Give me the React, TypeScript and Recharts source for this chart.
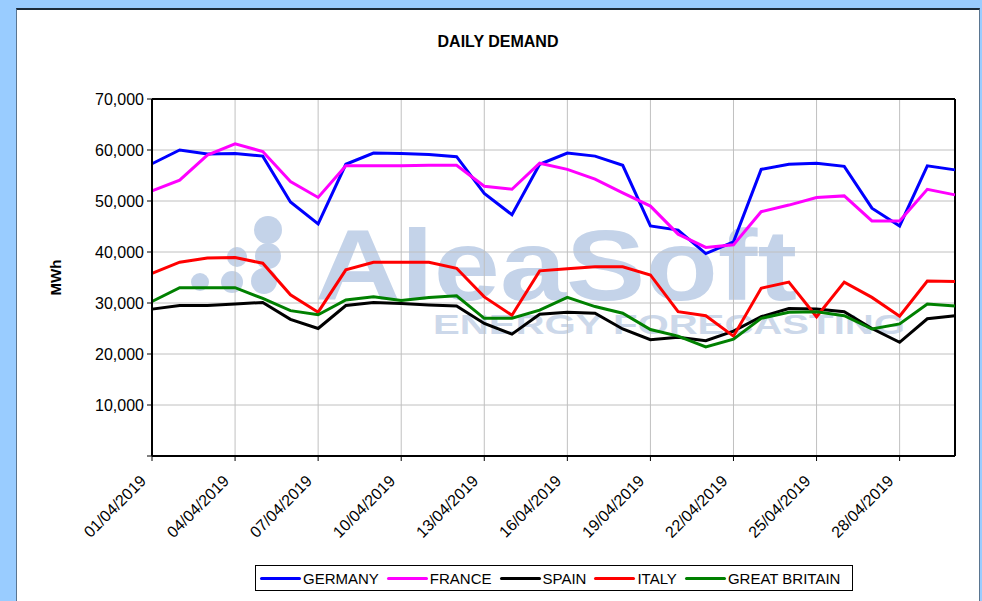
import React from 'react';
import { LineChart, Line, XAxis, YAxis, CartesianGrid, ReferenceLine, Label } from 'recharts';

const dates = [
  '01/04/2019', '02/04/2019', '03/04/2019', '04/04/2019', '05/04/2019', '06/04/2019',
  '07/04/2019', '08/04/2019', '09/04/2019', '10/04/2019', '11/04/2019', '12/04/2019',
  '13/04/2019', '14/04/2019', '15/04/2019', '16/04/2019', '17/04/2019', '18/04/2019',
  '19/04/2019', '20/04/2019', '21/04/2019', '22/04/2019', '23/04/2019', '24/04/2019',
  '25/04/2019', '26/04/2019', '27/04/2019', '28/04/2019', '29/04/2019', '30/04/2019',
];

const germany = [57300, 60000, 59200, 59300, 58800, 49800, 45500, 57200, 59400, 59300, 59100, 58700, 51500, 47300, 57200, 59400, 58800, 57000, 45100, 44300, 39700, 42000, 56200, 57200, 57400, 56800, 48600, 45100, 56900, 56100];
const france = [52000, 54100, 59000, 61200, 59700, 53800, 50700, 56900, 56900, 56900, 57000, 57000, 52900, 52300, 57400, 56200, 54300, 51600, 49000, 43500, 40900, 41400, 47900, 49200, 50700, 51000, 46100, 46100, 52300, 51200];
const spain = [28800, 29500, 29500, 29800, 30100, 26800, 25000, 29500, 30100, 29900, 29600, 29400, 26000, 23900, 27800, 28200, 28000, 24900, 22800, 23300, 22600, 24500, 27300, 28900, 28800, 28300, 25000, 22300, 26900, 27500];
const italy = [35800, 38000, 38800, 38900, 37800, 31600, 28200, 36500, 38000, 38000, 38000, 36800, 31200, 27600, 36300, 36700, 37100, 37100, 35500, 28300, 27500, 23500, 32900, 34100, 27300, 34100, 31100, 27400, 34300, 34200];
const greatBritain = [30300, 33000, 33000, 33000, 30900, 28500, 27700, 30600, 31200, 30500, 31100, 31400, 27000, 27000, 28600, 31100, 29300, 28000, 24800, 23500, 21400, 22900, 27000, 28200, 28300, 27500, 24900, 25900, 29800, 29400];

const yTicks = [0, 10000, 20000, 30000, 40000, 50000, 60000, 70000];
const xTicks = dates.map((_, i) => i + 1).filter((d) => (d - 1) % 3 === 0);

const series = [
  { key: 'germany', name: 'GERMANY', color: '#0000ff' },
  { key: 'france', name: 'FRANCE', color: '#ff00ff' },
  { key: 'spain', name: 'SPAIN', color: '#000000' },
  { key: 'italy', name: 'ITALY', color: '#ff0000' },
  { key: 'greatBritain', name: 'GREAT BRITAIN', color: '#008000' },
];

const data = dates.map((d, i) => ({
  day: i + 1,
  date: d,
  germany: germany[i],
  france: france[i],
  spain: spain[i],
  italy: italy[i],
  greatBritain: greatBritain[i],
}));

const FONT = '"Liberation Sans", Arial, sans-serif';
const WM = '#c4d3e9';

const DateTick = (props: any) => {
  const { x, y, payload } = props;
  const tx = x - 5;
  const ty = y + 19;
  return (
    <text x={tx} y={ty} transform={`rotate(-45, ${tx}, ${ty})`} textAnchor="end" fontSize={16} fontFamily={FONT} fill="#000">
      {dates[payload.value - 1]}
    </text>
  );
};

// faded company logo behind the plot
const Watermark = () => (
  <svg width={982} height={601} style={{ position: 'absolute', left: 0, top: 0 }}>
    <circle cx={268} cy={230} r={14} fill={WM} />
    <circle cx={237} cy={257} r={10} fill={WM} />
    <circle cx={268} cy={256} r={13} fill={WM} />
    <circle cx={200} cy={282} r={9} fill={WM} />
    <circle cx={232} cy={282} r={11} fill={WM} />
    <circle cx={264} cy={281} r={13} fill={WM} />
    <text x={315} y={300} fontSize={100} fontWeight="bold" fontFamily={FONT} fill={WM} textLength={482} lengthAdjust="spacingAndGlyphs">
      AleaSoft
    </text>
    <text x={433} y={334} fontSize={28} fontWeight="bold" fontFamily={FONT} fill="#ccd8ea" textLength={472} lengthAdjust="spacingAndGlyphs">
      ENERGY FORECASTING
    </text>
  </svg>
);

export default function App() {
  return (
    <div style={{ position: 'fixed', left: 0, top: 0, width: 982, height: 601, background: '#99ccff', overflow: 'hidden', fontFamily: FONT }}>
      <div style={{ position: 'absolute', left: 16, top: 8, width: 962, height: 620, background: '#fff', borderTop: '2px solid #1c2b3a', borderLeft: '1px solid #5a7590', borderRight: '1px solid #5a7590' }} />
      <Watermark />
      <div style={{ position: 'absolute', left: 0, top: 0 }}>
        <LineChart width={982} height={601} data={data} margin={{ top: 99, right: 27, bottom: 55, left: 92 }}>
          <CartesianGrid stroke="#c0c0c0" strokeWidth={1} />
          <XAxis
            dataKey="day"
            type="number"
            domain={[1, 30]}
            ticks={xTicks}
            interval={0}
            height={90}
            tickSize={5}
            tickMargin={2}
            tick={<DateTick />}
            axisLine={{ stroke: '#000', strokeWidth: 2 }}
            tickLine={{ stroke: '#000' }}
          />
          <YAxis
            domain={[0, 70000]}
            ticks={yTicks}
            width={60}
            tickSize={5}
            tickMargin={3}
            tickFormatter={(v: number) => (v === 0 ? '' : v.toLocaleString('en-US'))}
            tick={{ fill: '#000', fontSize: 16, fontFamily: FONT }}
            axisLine={{ stroke: '#000', strokeWidth: 2 }}
            tickLine={{ stroke: '#000' }}
          >
            <Label
              content={(p: any) => {
                const vb = p.viewBox || { x: 92, y: 99, width: 60, height: 357 };
                const cx = vb.x - 37;
                const cy = vb.y + vb.height / 2;
                return (
                  <text x={cx} y={cy} transform={`rotate(-90, ${cx}, ${cy})`} textAnchor="middle" dominantBaseline="central" fontSize={15} fontWeight="bold" fontFamily={FONT} fill="#000">
                    MWh
                  </text>
                );
              }}
            />
          </YAxis>
          <ReferenceLine y={70000} stroke="#000" strokeWidth={2} />
          <ReferenceLine x={30} stroke="#000" strokeWidth={2} />
          {series.map((s) => (
            <Line
              key={s.key}
              type="linear"
              dataKey={s.key}
              name={s.name}
              stroke={s.color}
              strokeWidth={3}
              dot={false}
              isAnimationActive={false}
            />
          ))}
        </LineChart>
      </div>
      <div style={{ position: 'absolute', left: 398, top: 33, width: 200, textAlign: 'center', fontSize: 16, fontWeight: 'bold', color: '#000' }}>
        DAILY DEMAND
      </div>
      <div style={{ position: 'absolute', left: 255, top: 565, width: 592, height: 24, border: '1px solid #000', background: '#fff', display: 'flex', alignItems: 'center', paddingLeft: 4, boxSizing: 'content-box' }}>
        {series.map((s) => (
          <div key={s.key} style={{ display: 'flex', alignItems: 'center', marginRight: 8 }}>
            <div style={{ width: 41, height: 3, background: s.color, borderRadius: 2, marginRight: 2 }} />
            <span style={{ fontSize: 15, color: '#000' }}>{s.name}</span>
          </div>
        ))}
      </div>
    </div>
  );
}
